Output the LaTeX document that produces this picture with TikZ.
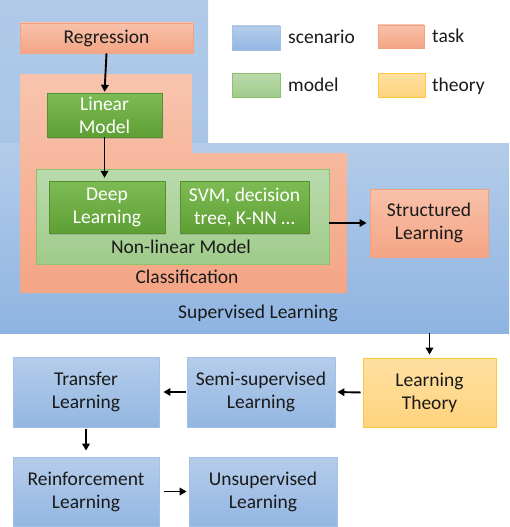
\documentclass[tikz,border=0pt]{standalone}
\usepackage{fontspec}
\setmainfont{Carlito}
\usetikzlibrary{arrows.meta,shadows}
\definecolor{scTop}{HTML}{B5CDEA}
\definecolor{scBot}{HTML}{93B6E2}
\definecolor{scLine}{HTML}{A3C1E7}
\definecolor{supTopA}{HTML}{B1CAE8}
\definecolor{supTopB}{HTML}{A9C5E6}
\definecolor{supBotA}{HTML}{B4CCE9}
\definecolor{supBotB}{HTML}{8FB4E2}
\definecolor{tkTop}{HTML}{F8C1AA}
\definecolor{tkBot}{HTML}{F4A585}
\definecolor{tkLine}{HTML}{F3A27F}
\definecolor{mdTop}{HTML}{7DBC54}
\definecolor{mdBot}{HTML}{5E9F35}
\definecolor{nlTop}{HTML}{BADAAD}
\definecolor{nlBot}{HTML}{A0CB8B}
\definecolor{nlLine}{HTML}{8DC26B}
\definecolor{thTop}{HTML}{FFE0A1}
\definecolor{thBot}{HTML}{FFD37E}
\definecolor{thLine}{HTML}{FFC83C}
\definecolor{txt}{HTML}{1A1A1A}
\tikzset{
  base/.style={rectangle, inner sep=0pt, align=center, text=txt,
    font=\fontsize{19.5}{23}\selectfont},
  scbox/.style={base, top color=scTop, bottom color=scBot, draw=scLine, line width=0.8pt},
  tkbox/.style={base, top color=tkTop, bottom color=tkBot, draw=tkLine, line width=0.8pt},
  mdbox/.style={base, top color=mdTop, bottom color=mdBot, draw=mdBot!90!black, line width=0.4pt, text=white,
    drop shadow={shadow xshift=0.6pt, shadow yshift=-1.6pt, opacity=0.35}},
  thbox/.style={base, top color=thTop, bottom color=thBot, draw=thLine, line width=0.8pt},
  lbl/.style={inner sep=0pt, text=txt, font=\fontsize{19.5}{23}\selectfont},
  arr/.style={-{Triangle[length=7pt,width=7.5pt]}, line width=1.9pt, black},
}
\begin{document}
\begin{tikzpicture}[x=1pt,y=-1pt]
\useasboundingbox (0,0) rectangle (509,527);
\fill[white] (0,0) rectangle (509,527);
% supervised learning region
\node[rectangle, inner sep=0pt, top color=supTopA, bottom color=supTopB, minimum width=208pt, minimum height=143pt] (supT) at (104,71.5) {};
\node[rectangle, inner sep=0pt, top color=supBotA, bottom color=supBotB, minimum width=509pt, minimum height=190pt] (supB) at (254.5,238) {};
\node[lbl, anchor=base] (supL) at (258,318) {Supervised Learning};
% classification region
\shade[top color=tkTop!95!white, bottom color=tkBot] (20,74) -- (192,74) -- (192,153) -- (347,153) -- (347,293) -- (20,293) -- cycle;
\node[lbl, anchor=base] (clsL) at (187,283) {Classification};
% non-linear model region
\node[rectangle, inner sep=0pt, top color=nlTop, bottom color=nlBot, draw=nlLine, line width=0.8pt, minimum width=293pt, minimum height=95pt] (NL) at (182.5,216.5) {};
\node[lbl, anchor=base] (nlL) at (181,253) {Non-linear Model};
% boxes
\node[tkbox, minimum width=173pt, minimum height=30pt] (Reg) at (106.5,38) {Regression};
\node[mdbox, minimum width=115pt, minimum height=44pt] (Lin) at (104.5,115) {Linear\\Model};
\node[mdbox, minimum width=116pt, minimum height=52pt] (Deep) at (107,207) {Deep\\Learning};
\node[mdbox, minimum width=129pt, minimum height=52pt] (SVM) at (244.5,207) {SVM, decision\\tree, K-NN …};
\node[tkbox, minimum width=118pt, minimum height=68pt] (Str) at (429,223) {Structured\\Learning};
\node[thbox, minimum width=133pt, minimum height=69pt] (LT) at (429.5,392.5) {Learning\\Theory};
\node[scbox, minimum width=148pt, minimum height=70pt] (Semi) at (261,392) {Semi-supervised\\Learning};
\node[scbox, minimum width=146pt, minimum height=70pt] (Tr) at (86,392) {Transfer\\Learning};
\node[scbox, minimum width=146pt, minimum height=69pt] (Re) at (86,491.5) {Reinforcement\\Learning};
\node[scbox, minimum width=148pt, minimum height=69pt] (Un) at (263,491.5) {Unsupervised\\Learning};
% legend
\node[scbox, minimum width=48pt, minimum height=24pt] (lgS) at (256,38) {};
\node[lbl, anchor=base west] (lgSt) at (288,44) {scenario};
\node[tkbox, minimum width=46pt, minimum height=23pt] (lgT) at (401,36.5) {};
\node[lbl, anchor=base west] (lgTt) at (432,43) {task};
\node[base, top color=nlTop, bottom color=nlBot, draw=nlLine, line width=0.8pt, minimum width=48pt, minimum height=24pt] (lgM) at (256,85) {};
\node[lbl, anchor=base west] (lgMt) at (288,91) {model};
\node[thbox, minimum width=47pt, minimum height=24pt] (lgH) at (401.5,85) {};
\node[lbl, anchor=base west] (lgHt) at (432,91) {theory};
% arrows
\draw[arr, shorten >=1pt] (Reg.south) -- (Lin.north);
\draw[arr, shorten >=3pt] (Lin.south) -- (Lin.south |- Deep.north);
\draw[arr, shorten >=3pt] (NL.east |- Str.west) -- (Str.west);
\draw[arr, shorten >=3pt] (LT.north |- supB.south) -- (LT.north);
\draw[arr, shorten <=2pt, shorten >=2pt] (LT.west) -- (Semi.east);
\draw[arr, shorten <=1pt, shorten >=4pt] (Semi.west) -- (Tr.east);
\draw[arr, shorten <=2pt, shorten >=6pt] (Tr.south) -- (Re.north);
\draw[arr, shorten <=5pt, shorten >=2pt] (Re.east) -- (Un.west);
\end{tikzpicture}
\end{document}
